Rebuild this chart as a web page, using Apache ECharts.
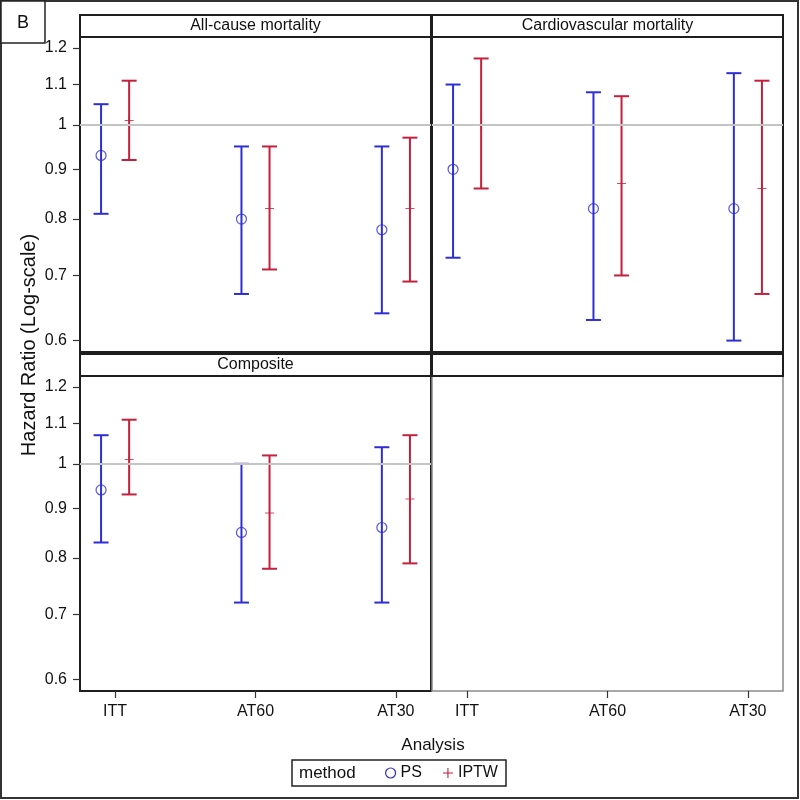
<!DOCTYPE html>
<html>
<head>
<meta charset="utf-8">
<script src="https://cdn.jsdelivr.net/npm/echarts@6/dist/echarts.min.js"></script>
<style>html,body{margin:0;padding:0;background:#fff;}#c{width:800px;height:800px;}</style>
</head>
<body>
<div id="c"></div>
<script>
// ---- data ----
const categories = ['ITT', 'AT60', 'AT30'];
const panelTitles = ['All-cause mortality', 'Cardiovascular mortality', 'Composite'];
const yTicks = [0.6, 0.7, 0.8, 0.9, 1, 1.1, 1.2];
const yTickLabels = ['0.6', '0.7', '0.8', '0.9', '1', '1.1', '1.2'];
const methods = ['PS', 'IPTW'];

// All-cause mortality
const allPS_HR = [0.93, 0.80, 0.78];
const allPS_Lo = [0.81, 0.67, 0.64];
const allPS_Hi = [1.05, 0.95, 0.95];
const allIPTW_HR = [1.01, 0.82, 0.82];
const allIPTW_Lo = [0.92, 0.71, 0.69];
const allIPTW_Hi = [1.11, 0.95, 0.97];

// Cardiovascular mortality
const cvPS_HR = [0.90, 0.82, 0.82];
const cvPS_Lo = [0.73, 0.63, 0.60];
const cvPS_Hi = [1.10, 1.08, 1.13];
const cvIPTW_HR = [1.00, 0.87, 0.86];
const cvIPTW_Lo = [0.86, 0.70, 0.67];
const cvIPTW_Hi = [1.17, 1.07, 1.11];

// Composite
const compPS_HR = [0.94, 0.85, 0.86];
const compPS_Lo = [0.83, 0.72, 0.72];
const compPS_Hi = [1.07, 1.00, 1.04];
const compIPTW_HR = [1.01, 0.89, 0.92];
const compIPTW_Lo = [0.93, 0.78, 0.79];
const compIPTW_Hi = [1.11, 1.02, 1.07];

// ---- build ----
const BLUE = '#2e2ed6';
const RED = '#c4203c';
const FONT = 'Liberation Sans, Arial, sans-serif';
const L = Math.log;
const Y_MIN = L(0.584), Y_MAX = L(1.231);
const DODGE = 0.1;

const panels = [
  {ps: [allPS_HR, allPS_Lo, allPS_Hi], iptw: [allIPTW_HR, allIPTW_Lo, allIPTW_Hi]},
  {ps: [cvPS_HR, cvPS_Lo, cvPS_Hi], iptw: [cvIPTW_HR, cvIPTW_Lo, cvIPTW_Hi]},
  {ps: [compPS_HR, compPS_Lo, compPS_Hi], iptw: [compIPTW_HR, compIPTW_Lo, compIPTW_Hi]}
];

const gridPos = [
  {left: 80, top: 37, width: 351, height: 315},
  {left: 432, top: 37, width: 351, height: 315},
  {left: 80, top: 376, width: 351, height: 315},
  {left: 432, top: 376, width: 351, height: 315}
];

const plusPath = 'path://M0,4L4,4L4,0L5,0L5,4L9,4L9,5L5,5L5,9L4,9L4,5L0,5Z';

function renderErr(params, api) {
  const x = api.value(0), lo = api.value(1), hi = api.value(2);
  const pLo = api.coord([x, lo]), pHi = api.coord([x, hi]);
  const hw = 7.5;
  const style = {stroke: api.visual('color'), lineWidth: 2, fill: null};
  return {type: 'group', children: [
    {type: 'line', shape: {x1: pLo[0], y1: pLo[1], x2: pHi[0], y2: pHi[1]}, style: style},
    {type: 'line', shape: {x1: pLo[0] - hw, y1: pLo[1], x2: pLo[0] + hw, y2: pLo[1]}, style: style},
    {type: 'line', shape: {x1: pHi[0] - hw, y1: pHi[1], x2: pHi[0] + hw, y2: pHi[1]}, style: style}
  ]};
}

function yLabelFmt(v) {
  for (let i = 0; i < yTicks.length; i++) {
    if (Math.abs(L(yTicks[i]) - v) < 1e-6) return yTickLabels[i];
  }
  return '';
}

const grids = gridPos.map((g, i) => Object.assign({
  show: true,
  borderColor: i === 3 ? '#8a8a8a' : '#1e1e1e',
  borderWidth: i === 3 ? 1.5 : 2,
  backgroundColor: 'transparent'
}, g));

const xAxes = gridPos.map((g, i) => ({
  type: 'value', gridIndex: i, min: 0.75, max: 3.25,
  show: i >= 2,
  position: 'bottom',
  axisLine: {show: false, onZero: false},
  splitLine: {show: false},
  axisTick: {show: true, customValues: [1, 2, 3], length: 7, inside: false, lineStyle: {color: '#333', width: 1.2}},
  axisLabel: {show: true, customValues: [1, 2, 3], margin: 13, fontSize: 16, fontFamily: FONT, color: '#111',
    formatter: v => categories[Math.round(v) - 1] || ''}
}));

const yAxes = gridPos.map((g, i) => ({
  type: 'value', gridIndex: i, min: Y_MIN, max: Y_MAX,
  show: i === 0 || i === 2,
  position: 'left',
  axisLine: {show: false, onZero: false},
  splitLine: {show: false},
  axisTick: {show: true, customValues: yTicks.map(L), length: 7, inside: false, lineStyle: {color: '#333', width: 1.2}},
  axisLabel: {show: true, customValues: yTicks.map(L), margin: 13, fontSize: 16, fontFamily: FONT, color: '#111',
    formatter: yLabelFmt}
}));

const series = [];
panels.forEach((p, i) => {
  [['PS', p.ps, -DODGE, BLUE], ['IPTW', p.iptw, DODGE, RED]].forEach(([name, arr, off, col]) => {
    const [hr, lo, hi] = arr;
    series.push({
      type: 'custom', name: name, xAxisIndex: i, yAxisIndex: i, z: 2,
      itemStyle: {color: col},
      renderItem: renderErr,
      encode: {x: 0, y: [1, 2]},
      data: categories.map((c, k) => [k + 1 + off, L(lo[k]), L(hi[k])])
    });
    series.push({
      type: 'scatter', name: name, xAxisIndex: i, yAxisIndex: i, z: 3,
      symbol: name === 'PS' ? 'circle' : plusPath,
      symbolSize: name === 'PS' ? 10 : 9,
      itemStyle: name === 'PS' ? {color: 'rgba(0,0,0,0)', borderColor: col, borderWidth: 1.2} : {color: col},
      emphasis: {disabled: true},
      data: categories.map((c, k) => [k + 1 + off, L(hr[k])])
    });
  });
  series.push({
    type: 'line', name: 'ref' + i, xAxisIndex: i, yAxisIndex: i, z: 10, data: [],
    markLine: {silent: true, symbol: 'none', label: {show: false},
      lineStyle: {color: '#c4c4c4', width: 2, type: 'solid'},
      data: [{yAxis: L(1)}]}
  });
});

const headerGraphics = [];
const headerBoxes = [
  {x: 80, y: 15, w: 351, t: panelTitles[0]},
  {x: 432, y: 15, w: 351, t: panelTitles[1]},
  {x: 80, y: 354, w: 351, t: panelTitles[2]},
  {x: 432, y: 354, w: 351, t: ''}
];
headerBoxes.forEach(h => {
  headerGraphics.push({type: 'rect', z: 100, shape: {x: h.x, y: h.y, width: h.w, height: 22},
    style: {fill: '#fff', stroke: '#1e1e1e', lineWidth: 2}});
  if (h.t) headerGraphics.push({type: 'text', z: 101, x: h.x + h.w / 2, y: h.y + 11,
    style: {text: h.t, fontSize: 16, fontFamily: FONT, fill: '#111', align: 'center', verticalAlign: 'middle'}});
});

const option = {
  animation: false,
  backgroundColor: '#fff',
  grid: grids,
  xAxis: xAxes,
  yAxis: yAxes,
  series: series,
  legend: {
    data: [
      {name: 'PS', icon: 'circle', itemStyle: {color: '#fff', borderColor: BLUE, borderWidth: 1.2}},
      {name: 'IPTW', icon: plusPath, itemStyle: {color: RED}}
    ],
    left: 385, top: 765, padding: 0, itemWidth: 10, itemHeight: 10, itemGap: 21,
    selectedMode: false,
    textStyle: {fontSize: 16, fontFamily: FONT, color: '#111', lineHeight: 16}
  },
  graphic: [
    {type: 'rect', z: 100, shape: {x: 1, y: 1, width: 797, height: 797}, style: {fill: 'none', stroke: '#333', lineWidth: 2}},
    {type: 'rect', z: 100, shape: {x: 1, y: 1, width: 44, height: 42}, style: {fill: '#fff', stroke: '#222', lineWidth: 1.5}},
    {type: 'text', z: 101, x: 23, y: 23, style: {text: 'B', fontSize: 18, fontFamily: FONT, fill: '#111', align: 'center', verticalAlign: 'middle'}},
    ...headerGraphics,
    {type: 'text', z: 100, x: 433, y: 745, style: {text: 'Analysis', fontSize: 17, fontFamily: FONT, fill: '#111', align: 'center', verticalAlign: 'middle'}},
    {type: 'text', z: 100, x: 29, y: 345, rotation: Math.PI / 2,
      style: {text: 'Hazard Ratio (Log-scale)', fontSize: 20, fontFamily: FONT, fill: '#111', align: 'center', verticalAlign: 'middle'}},
    {type: 'rect', z: 100, shape: {x: 292, y: 760, width: 214, height: 26}, style: {fill: 'none', stroke: '#222', lineWidth: 1.5}},
    {type: 'text', z: 100, x: 299, y: 773, style: {text: 'method', fontSize: 17, fontFamily: FONT, fill: '#111', align: 'left', verticalAlign: 'middle'}}
  ]
};

const chart = echarts.init(document.getElementById('c'), null, {renderer: 'canvas'});
chart.setOption(option);
</script>
</body>
</html>
